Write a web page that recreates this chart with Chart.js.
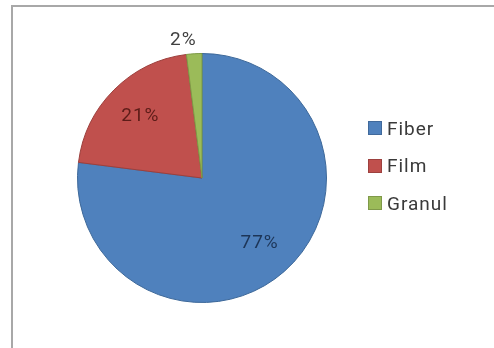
<!DOCTYPE html>
<html>
<head>
<meta charset="utf-8">
<script src="https://cdn.jsdelivr.net/npm/chart.js@4/dist/chart.umd.min.js"></script>
<style>
  html, body { margin: 0; padding: 0; background: #ffffff; }
  #wrap { position: relative; width: 494px; height: 348px; overflow: hidden; background: #fff; }
  #frame { position: absolute; left: 11px; top: 5px; width: 500px; height: 360px;
           border-left: 2px solid #a8a8a8; border-top: 2px solid #a8a8a8; }
  #c { position: absolute; left: 0; top: 0; }
  #legend { position: absolute; left: 368px; top: 116px; font-family: Roboto, "Noto Sans", sans-serif;
            font-size: 19px; letter-spacing: 1px; color: #3a3a3a; }
  #legend .item { display: flex; align-items: center; height: 24px; margin-bottom: 13.5px; }
  #legend .box { width: 14px; height: 14px; margin-right: 5px; box-sizing: border-box; border: 1px solid rgba(0,0,0,0.18); }
</style>
</head>
<body>
<div id="wrap">
  <div id="frame"></div>
  <canvas id="c" width="494" height="348"></canvas>
  <div id="legend"></div>
</div>
<script>
const categories = ["Fiber", "Film", "Granul"];
const values = [77, 21, 2];
const valueLabels = ["77%", "21%", "2%"];

const colors = ["#4f81bd", "#c0504d", "#9bbb59"];
const borders = ["#3d6899", "#9c3f3c", "#7d9a45"];
const labelColors = ["#1d3557", "#5c1c18", "#404040"];

// HTML legend built from the categories
const legend = document.getElementById('legend');
categories.forEach((cat, i) => {
  const item = document.createElement('div');
  item.className = 'item';
  const box = document.createElement('span');
  box.className = 'box';
  box.style.background = colors[i];
  const txt = document.createElement('span');
  txt.textContent = cat;
  item.appendChild(box); item.appendChild(txt);
  legend.appendChild(item);
});

const sliceLabels = {
  id: 'sliceLabels',
  afterDatasetsDraw(chart) {
    const ctx = chart.ctx;
    const meta = chart.getDatasetMeta(0);
    ctx.save();
    ctx.font = '19px Roboto, "Noto Sans", sans-serif';
    try { ctx.letterSpacing = '1px'; } catch (e) {}
    ctx.textAlign = 'center';
    ctx.textBaseline = 'middle';
    meta.data.forEach((arc, i) => {
      const p = arc.getProps(['x', 'y', 'startAngle', 'endAngle', 'outerRadius'], true);
      const mid = (p.startAngle + p.endAngle) / 2;
      const share = values[i] / values.reduce((a, b) => a + b, 0);
      let r = share < 0.05 ? p.outerRadius + 14 : p.outerRadius * 0.7;
      let x = p.x + Math.cos(mid) * r;
      let y = p.y + Math.sin(mid) * r;
      if (share < 0.05) x -= 10;
      ctx.fillStyle = labelColors[i];
      ctx.fillText(valueLabels[i], x, y);
    });
    ctx.restore();
  }
};

new Chart(document.getElementById('c'), {
  type: 'pie',
  data: {
    labels: categories,
    datasets: [{
      data: values,
      backgroundColor: colors,
      borderColor: borders,
      borderWidth: 1
    }]
  },
  options: {
    responsive: false,
    animation: false,
    layout: { padding: { left: 77, right: 167, top: 53, bottom: 45 } },
    plugins: {
      legend: { display: false },
      tooltip: { enabled: false }
    }
  },
  plugins: [sliceLabels]
});
</script>
</body>
</html>
